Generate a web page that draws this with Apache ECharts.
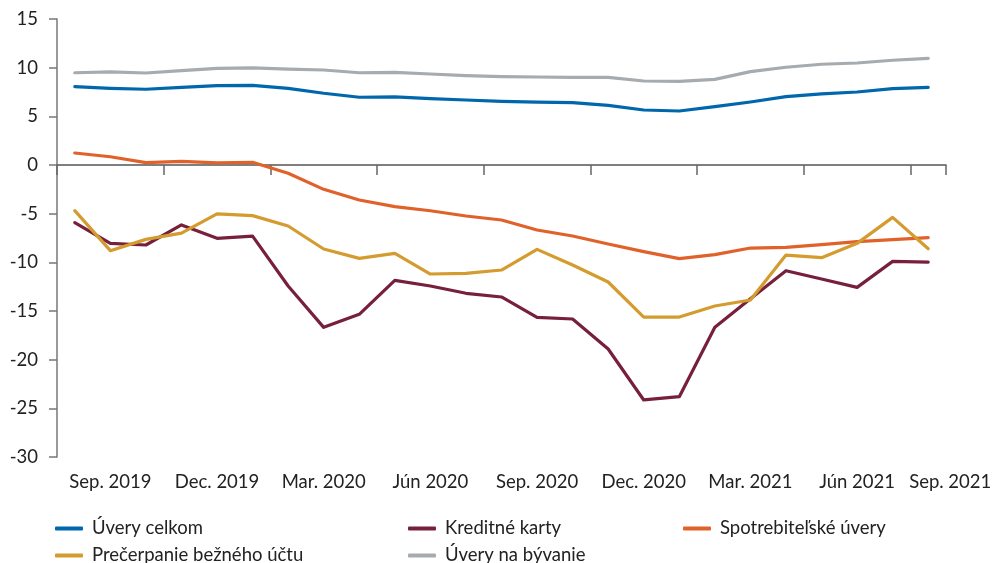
<!DOCTYPE html>
<html><head><meta charset="utf-8">
<script src="https://cdn.jsdelivr.net/npm/echarts@6/dist/echarts.min.js"></script>
<style>html,body{margin:0;padding:0;background:#fff}#c{width:995px;height:563px}</style>
</head><body><div id="c"></div>
<script>
const months = ['09/2019','10/2019','11/2019','12/2019','01/2020','02/2020','03/2020','04/2020','05/2020','06/2020','07/2020','08/2020','09/2020','10/2020','11/2020','12/2020','01/2021','02/2021','03/2021','04/2021','05/2021','06/2021','07/2021','08/2021','09/2021'];
const tickLabels = ['Sep. 2019','Dec. 2019','Mar. 2020','Jún 2020','Sep. 2020','Dec. 2020','Mar. 2021','Jún 2021','Sep. 2021'];
const uveryCelkom = [8.05,7.88,7.78,7.98,8.15,8.19,7.88,7.37,6.96,6.99,6.81,6.68,6.54,6.47,6.40,6.13,5.65,5.55,5.99,6.47,7.02,7.30,7.50,7.84,7.98];
const kreditneKarty = [-5.92,-8.05,-8.22,-6.16,-7.53,-7.30,-12.43,-16.68,-15.34,-11.85,-12.43,-13.18,-13.56,-15.65,-15.82,-18.90,-24.14,-23.80,-16.68,-13.73,-10.86,-11.71,-12.57,-9.90,-9.97];
const spotrebitelske = [1.23,0.85,0.24,0.38,0.21,0.28,-0.85,-2.50,-3.60,-4.28,-4.70,-5.24,-5.65,-6.68,-7.29,-8.12,-8.90,-9.62,-9.21,-8.53,-8.46,-8.19,-7.88,-7.67,-7.47];
const precerpanie = [-4.69,-8.80,-7.64,-7.00,-5.03,-5.20,-6.27,-8.63,-9.59,-9.08,-11.20,-11.13,-10.79,-8.67,-10.27,-12.02,-15.62,-15.62,-14.49,-13.87,-9.25,-9.52,-8.05,-5.38,-8.60];
const byvanie = [9.48,9.56,9.45,9.69,9.93,9.97,9.86,9.76,9.48,9.52,9.35,9.18,9.07,9.04,9.01,9.01,8.63,8.60,8.80,9.59,10.04,10.35,10.48,10.76,10.96];

const names = ['Úvery celkom','Kreditné karty','Spotrebiteľské úvery','Prečerpanie bežného účtu','Úvery na bývanie'];
const colors = ['#0067AC','#76203E','#E0622A','#D49B2E','#A6ABAF'];
const seriesData = [uveryCelkom,kreditneKarty,spotrebitelske,precerpanie,byvanie];
const font = 'Lato';
const fs = 18.5;
const legendPos = [[50,514],[403,514],[678,514],[50,541],[403,541]];

const chart = echarts.init(document.getElementById('c'));
chart.setOption({
  animation:false,
  textStyle:{fontFamily:font},
  grid:{left:57,right:49,top:19,bottom:106,containLabel:false},
  legend: names.map((n,i)=>({
    data:[{name:n,icon:'roundRect'}],
    left:legendPos[i][0], top:legendPos[i][1],
    itemWidth:28,itemHeight:4,
    textStyle:{fontFamily:font,fontSize:fs,color:'#222',padding:[0,0,0,4]},
    selectedMode:false
  })),
  xAxis:[{
    type:'category',data:months,boundaryGap:true,
    axisLine:{onZero:true,lineStyle:{color:'#555',width:1.5}},
    axisTick:{show:true,length:10,interval:(i)=>i%3===0,lineStyle:{color:'#666',width:1.5}},
    axisLabel:{show:false},splitLine:{show:false}
  },{
    type:'category',data:months,boundaryGap:true,position:'bottom',
    axisLine:{show:false,onZero:false},axisTick:{show:false},
    axisLabel:{
      interval:0,margin:16,fontSize:fs,color:'#222',fontFamily:font,
      formatter:(v,i)=>{
        if(i===24) return '{r|'+tickLabels[8]+'}';
        if(i%3===1) return tickLabels[(i-1)/3];
        return '';
      },
      rich:{r:{padding:[0,0,0,44],fontSize:fs,color:'#222',fontFamily:font}}
    }
  }],
  yAxis:{
    type:'value',min:-30,max:15,interval:5,
    axisLine:{show:true,lineStyle:{color:'#777',width:1.5}},
    axisTick:{show:true,length:8,lineStyle:{color:'#777',width:1.5}},
    axisLabel:{margin:19,fontSize:fs,color:'#222',fontFamily:font},
    splitLine:{show:false}
  },
  series: names.map((n,i)=>({
    name:n,type:'line',data:seriesData[i],symbol:'none',
    lineStyle:{color:colors[i],width:3.2,cap:'round',join:'round'},
    itemStyle:{color:colors[i]},
    z: i===4?1:2
  }))
});
</script></body></html>
